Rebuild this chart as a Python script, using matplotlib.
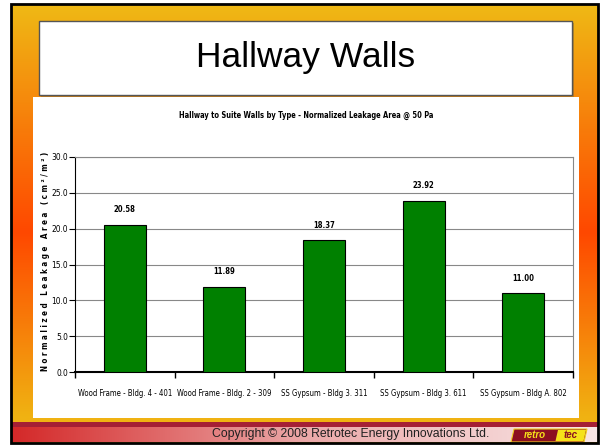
import numpy as np
import matplotlib.pyplot as plt
from matplotlib.colors import LinearSegmentedColormap
from matplotlib.patches import Rectangle, Polygon

categories = ['Wood Frame - Bldg. 4 - 401', 'Wood Frame - Bldg. 2 - 309',
              'SS Gypsum - Bldg 3. 311', 'SS Gypsum - Bldg 3. 611',
              'SS Gypsum - Bldg A. 802']
leakage = [20.58, 11.89, 18.37, 23.92, 11.00]
yticks = [0, 5, 10, 15, 20, 25, 30]

ARIAL = ['Liberation Sans', 'DejaVu Sans']
# narrow look for the chart text
NARROW = dict(family='DejaVu Sans', stretch='condensed')

fig = plt.figure(figsize=(6, 4.46), dpi=100)

# slide background, drawn in pixel coordinates
bg = fig.add_axes([0, 0, 1, 1])
bg.axis('off')

frame_cmap = LinearSegmentedColormap.from_list(
    'frame', [(0, '#EFB915'), (0.52, '#FF4800'), (0.94, '#F0B212'), (1, '#F0B212')])
grad = np.linspace(0, 1, 256).reshape(-1, 1)
bg.imshow(grad, cmap=frame_cmap, extent=[11, 598, 443, 4], aspect='auto', zorder=0)

# copyright bar
bar_cmap = LinearSegmentedColormap.from_list('bar', ['#D42828', '#EBA8A8', '#F8E6E6'])
hgrad = np.linspace(0, 1, 256).reshape(1, -1)
bg.imshow(hgrad, cmap=bar_cmap, extent=[11, 598, 442, 426], aspect='auto', zorder=1)
bg.add_patch(Rectangle((11, 422), 587, 4.5, fc='#A51F35', ec='none', zorder=2))
bg.add_patch(Rectangle((11, 4), 587, 439, fill=False, ec='black', lw=2, zorder=5))

# title box
bg.add_patch(Rectangle((41, 23), 533, 74, fc='#8a6a30', ec='none', alpha=0.5, zorder=2))
bg.add_patch(Rectangle((39, 21), 533, 74, fc='white', ec='#555555', lw=1, zorder=3))
bg.text(306, 58, 'Hallway Walls', fontsize=25.5, family=ARIAL,
        ha='center', va='center', zorder=4)

# chart panel
bg.add_patch(Rectangle((33, 97), 546, 321, fc='white', ec='none', zorder=3))
bg.text(306, 115, 'Hallway to Suite Walls by Type - Normalized Leakage Area @ 50 Pa',
        fontsize=5.45, fontweight='bold', ha='center', va='center', zorder=4, **NARROW)
bg.text(46, 261, 'N o r m a l i z e d   L e a k a g e   A r e a   ( c m ² / m ² )',
        fontsize=5.8, fontweight='bold', rotation=90,
        ha='center', va='center', zorder=4, **NARROW)

# footer text and logo
bg.text(351, 434, 'Copyright © 2008 Retrotec Energy Innovations Ltd.', fontsize=8.8,
        family=ARIAL, color='#202020', ha='center', va='center', zorder=4)
bg.add_patch(Polygon([(514, 429), (587, 429), (584, 442), (511, 442)],
                     closed=True, fc='#8C1020', ec='#F0D020', lw=0.8, zorder=4))
bg.add_patch(Polygon([(558, 430), (586, 430), (583.5, 441), (555.5, 441)],
                     closed=True, fc='#F5E21A', ec='none', zorder=5))
bg.text(535, 435.5, 'retro', fontsize=7, fontweight='bold', style='italic',
        family=ARIAL, color='#F5E21A', ha='center', va='center', zorder=6)
bg.text(570.5, 435.5, 'tec', fontsize=7, fontweight='bold', style='italic',
        family=ARIAL, color='#8C1020', ha='center', va='center', zorder=6)

bg.set_xlim(0, 600)
bg.set_ylim(446, 0)

# bar chart
ax = fig.add_axes([75 / 600, (446 - 372) / 446, 498 / 600, 215 / 446])
x = np.arange(len(categories))
ax.bar(x, leakage, width=0.42, color='#008000', edgecolor='black', lw=0.8, zorder=3)
for xi, v in zip(x, leakage):
    ax.annotate(f'{v:.2f}', (xi, v), xytext=(0, 10.8), textcoords='offset points',
                ha='center', va='center', fontsize=5.5, fontweight='bold', **NARROW)

ax.set_xlim(-0.5, len(categories) - 0.5)
ax.set_ylim(0, 30)
ax.set_yticks(yticks)
ax.set_yticklabels([f'{t:.1f}' for t in yticks], fontsize=6, **NARROW)
ax.yaxis.grid(True, color='#888888', lw=0.8, zorder=0)

ax.set_xticks(np.arange(len(categories) + 1) - 0.5)
ax.set_xticklabels([])
ax.set_xticks(x, minor=True)
ax.set_xticklabels(categories, minor=True, fontsize=5.6, **NARROW)
ax.tick_params(axis='x', which='major', direction='out', length=4, width=1)
ax.tick_params(axis='x', which='minor', length=0, pad=12.5)
ax.tick_params(axis='y', direction='out', length=4, width=0.8, pad=1)

ax.spines['left'].set_color('black')
ax.spines['bottom'].set_color('black')
ax.spines['bottom'].set_linewidth(1.5)
ax.spines['top'].set_color('#888888')
ax.spines['right'].set_color('#888888')

fig.savefig('out.png', dpi=100)
